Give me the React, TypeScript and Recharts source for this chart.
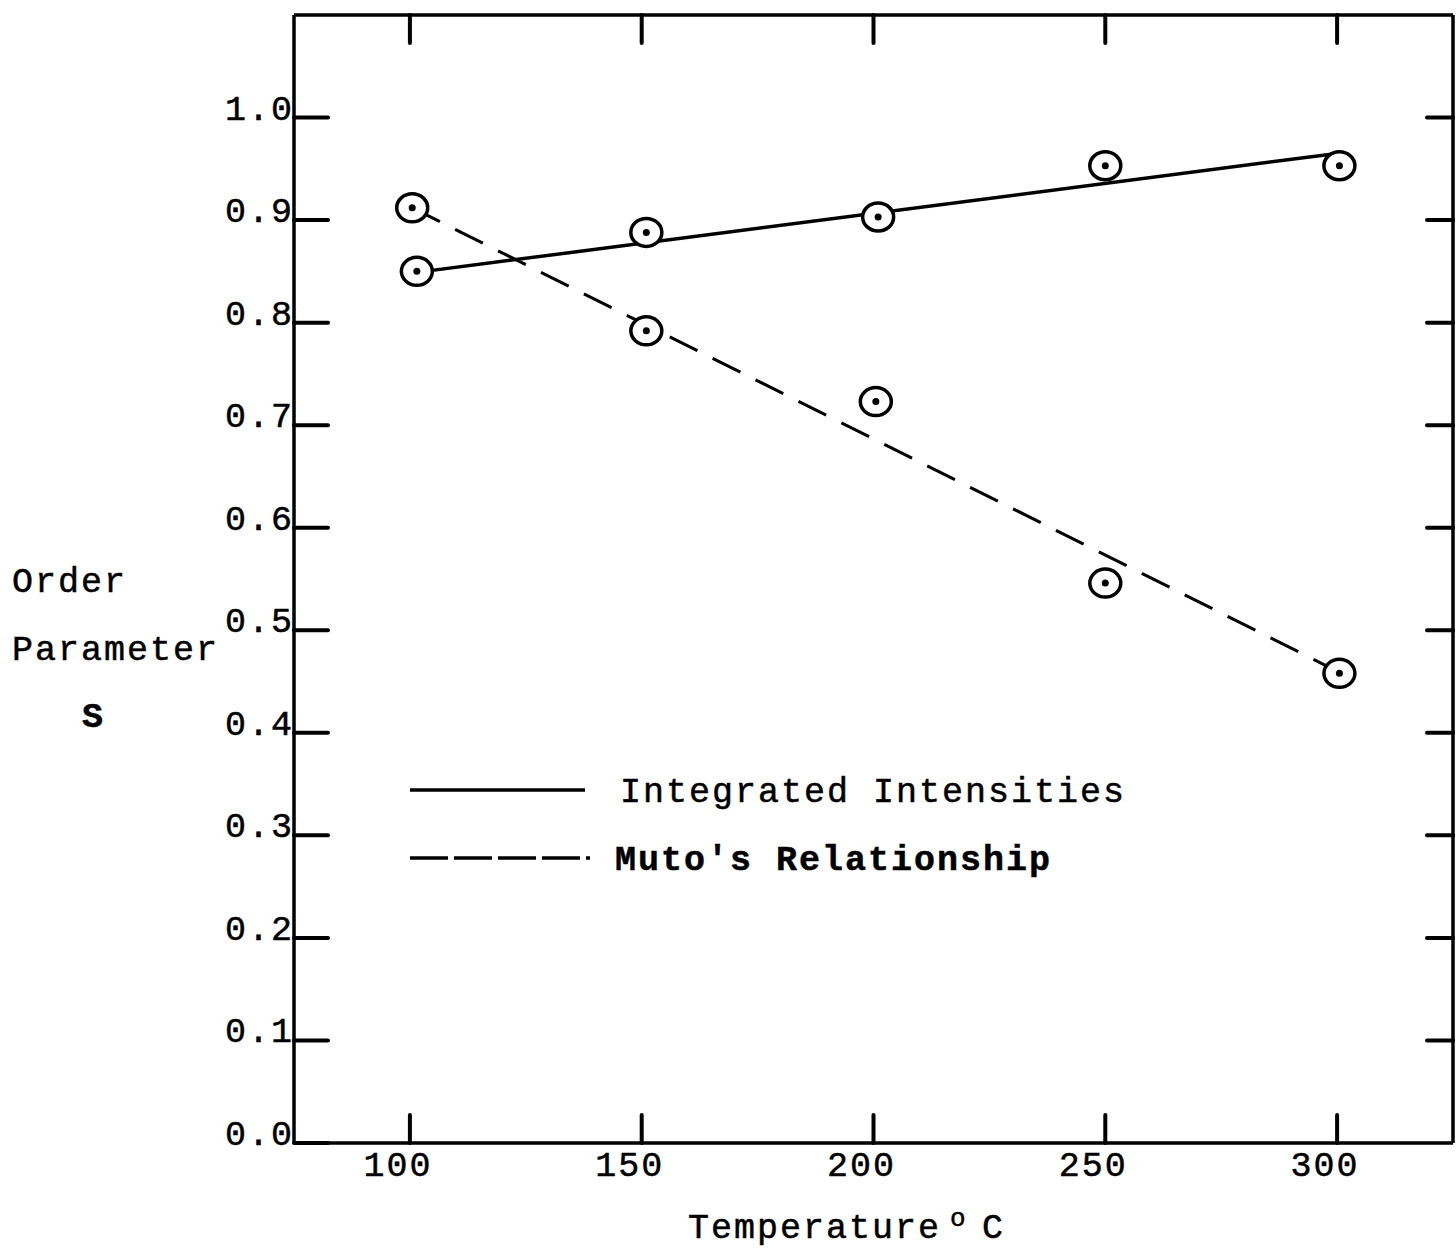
import React from "react";
import {
  ComposedChart,
  Line,
  Scatter,
  XAxis,
  YAxis,
  Legend,
} from "recharts";

// measured points (temperature in °C, order parameter S)
const integratedT = [101.5, 151, 201, 250, 300.5];
const integratedS = [0.85, 0.888, 0.903, 0.953, 0.953];
const mutoT = [100.5, 151, 200.5, 250, 300.5];
const mutoS = [0.912, 0.792, 0.723, 0.546, 0.458];

// hand-drawn straight lines through each set
const integratedFitT = [101.5, 300];
const integratedFitS = [0.849, 0.965];
const mutoFitT = [100.5, 300.5];
const mutoFitS = [0.912, 0.459];

const xTicks = [100, 150, 200, 250, 300];
const yTicks = [0, 0.1, 0.2, 0.3, 0.4, 0.5, 0.6, 0.7, 0.8, 0.9, 1.0];

const legendNames = ["Integrated Intensities", "Muto's Relationship"];

const FONT = "'Liberation Mono', 'DejaVu Sans Mono', monospace";
const INK = "#000";

const zip = (t: number[], s: number[]) => t.map((v, i) => ({ t: v, s: s[i] }));

const integratedPts = zip(integratedT, integratedS);
const mutoPts = zip(mutoT, mutoS);
const integratedFit = zip(integratedFitT, integratedFitS);
const mutoFit = zip(mutoFitT, mutoFitS);

// typewriter look: wide mono glyphs, slightly inked
const textStyle = {
  fontFamily: FONT,
  fontSize: 35,
  letterSpacing: 2,
  fill: INK,
  stroke: INK,
  strokeWidth: 0.5,
};

function CircleDot(props: any) {
  const { cx, cy } = props;
  if (cx == null || cy == null) return null;
  return (
    <g>
      <ellipse cx={cx} cy={cy} rx={15.5} ry={14} fill="#fff" stroke={INK} strokeWidth={3.5} />
      <circle cx={cx} cy={cy} r={3.5} fill={INK} />
    </g>
  );
}

// bottom ticks: mark points up into the plot, label below
function BottomTick(props: any) {
  const { x, y, payload } = props;
  return (
    <g>
      <line x1={x} y1={y} x2={x} y2={y - 28} stroke={INK} strokeWidth={4} strokeLinecap="round" />
      <text x={x - 12} y={y + 33} textAnchor="middle" style={textStyle}>
        {payload.value}
      </text>
    </g>
  );
}

function TopTick(props: any) {
  const { x, y } = props;
  return <line x1={x} y1={y} x2={x} y2={y + 28} stroke={INK} strokeWidth={4} strokeLinecap="round" />;
}

function LeftTick(props: any) {
  const { x, y, payload } = props;
  return (
    <g>
      <line x1={x} y1={y} x2={x + 34} y2={y} stroke={INK} strokeWidth={4} strokeLinecap="round" />
      <text x={x} y={y + 2} textAnchor="end" style={textStyle}>
        {Number(payload.value).toFixed(1)}
      </text>
    </g>
  );
}

function RightTick(props: any) {
  const { x, y } = props;
  return <line x1={x - 26} y1={y} x2={x} y2={y} stroke={INK} strokeWidth={4} strokeLinecap="round" />;
}

function KeyBox() {
  return (
    <svg width={740} height={130}>
      <line x1={10} y1={30} x2={185} y2={30} stroke={INK} strokeWidth={3.5} />
      <text x={220} y={42} style={textStyle}>
        {legendNames[0]}
      </text>
      <line x1={10} y1={98} x2={190} y2={98} stroke={INK} strokeWidth={3.5} strokeDasharray="38 6" />
      <text x={215} y={110} style={{ ...textStyle, fontWeight: 700 }}>
        {legendNames[1]}
      </text>
    </svg>
  );
}

export default function App() {
  return (
    <div
      style={{
        position: "absolute",
        left: 0,
        top: 0,
        width: 1456,
        height: 1253,
        background: "#fff",
      }}
    >
      <ComposedChart
        width={1456}
        height={1253}
        margin={{ top: 13, right: 0, bottom: 0, left: 0 }}
      >
        <XAxis
          xAxisId="b"
          dataKey="t"
          type="number"
          domain={[75, 325]}
          ticks={xTicks}
          height={110}
          axisLine={{ stroke: INK, strokeWidth: 3.5 }}
          tickLine={false}
          tickSize={0}
          tickMargin={0}
          tick={<BottomTick />}
          interval={0}
          allowDataOverflow
        />
        <XAxis
          xAxisId="t"
          dataKey="t"
          type="number"
          orientation="top"
          domain={[75, 325]}
          ticks={xTicks}
          height={2}
          axisLine={{ stroke: INK, strokeWidth: 3.5 }}
          tickLine={false}
          tickSize={0}
          tickMargin={0}
          tick={<TopTick />}
          interval={0}
          allowDataOverflow
        />
        <YAxis
          yAxisId="l"
          dataKey="s"
          type="number"
          domain={[0, 1.1]}
          ticks={yTicks}
          width={294}
          axisLine={{ stroke: INK, strokeWidth: 3.5 }}
          tickLine={false}
          tickSize={0}
          tickMargin={0}
          tick={<LeftTick />}
          interval={0}
          allowDataOverflow
        />
        <YAxis
          yAxisId="r"
          dataKey="s"
          type="number"
          orientation="right"
          domain={[0, 1.1]}
          ticks={yTicks.slice(1)}
          width={3}
          axisLine={{ stroke: INK, strokeWidth: 3.5 }}
          tickLine={false}
          tickSize={0}
          tickMargin={0}
          tick={<RightTick />}
          interval={0}
          allowDataOverflow
        />

        <Line
          xAxisId="b"
          yAxisId="l"
          data={integratedFit}
          dataKey="s"
          stroke={INK}
          strokeWidth={3.5}
          dot={false}
          activeDot={false}
          isAnimationActive={false}
          legendType="none"
        />
        <Line
          xAxisId="t"
          yAxisId="r"
          data={mutoFit}
          dataKey="s"
          stroke={INK}
          strokeWidth={3}
          strokeDasharray="31 17"
          dot={false}
          activeDot={false}
          isAnimationActive={false}
          legendType="none"
        />
        <Scatter
          xAxisId="b"
          yAxisId="l"
          data={integratedPts}
          shape={<CircleDot />}
          isAnimationActive={false}
          legendType="none"
        />
        <Scatter
          xAxisId="t"
          yAxisId="r"
          data={mutoPts}
          shape={<CircleDot />}
          isAnimationActive={false}
          legendType="none"
        />

        <Legend
          layout="horizontal"
          verticalAlign="middle"
          align="center"
          width={740}
          content={() => <KeyBox />}
          wrapperStyle={{ left: 400, top: 760, width: 740, height: 130 }}
        />

        {/* axis titles, typed like the original */}
        <text x={12} y={592} style={textStyle}>Order</text>
        <text x={12} y={660} style={textStyle}>Parameter</text>
        <text x={82} y={727} style={{ ...textStyle, fontWeight: 700 }}>S</text>
        <text x={688} y={1238} style={textStyle}>
          Temperature
          <tspan x={950} y={1226} style={{ fontSize: 26 }}>o</tspan>
          <tspan x={982} y={1238}>C</tspan>
        </text>
      </ComposedChart>
    </div>
  );
}
